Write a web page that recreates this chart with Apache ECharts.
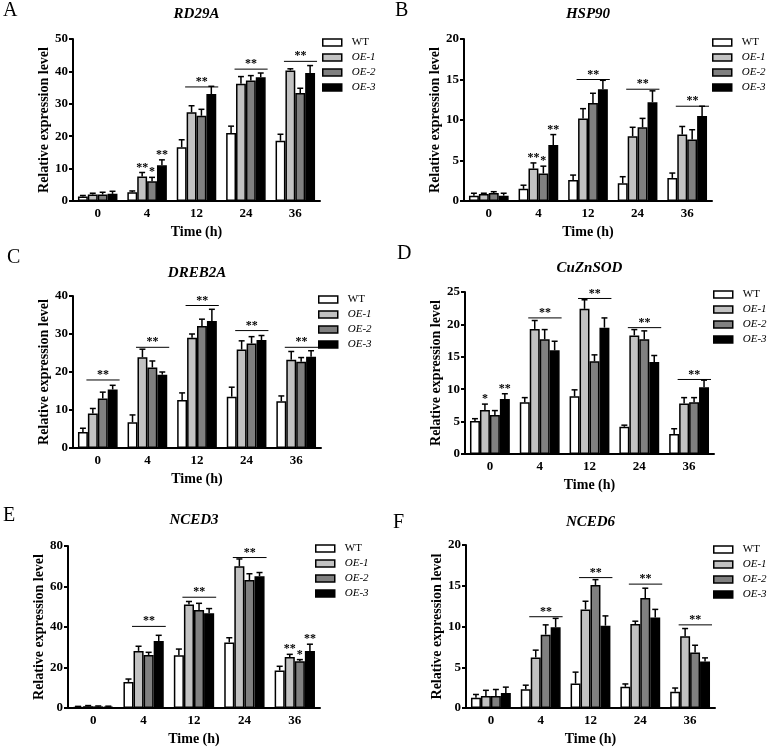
<!DOCTYPE html>
<html><head><meta charset="utf-8">
<script src="https://cdn.jsdelivr.net/npm/echarts@6/dist/echarts.min.js"></script>
<style>html,body{margin:0;padding:0;background:#fff}#c{width:771px;height:747px}</style>
</head><body><div id="c"></div>
<script>
// ---------- DATA ----------
const categories = ['0', '4', '12', '24', '36'];
const seriesNames = ['WT', 'OE-1', 'OE-2', 'OE-3'];
const yTitle = 'Relative expression level';
const xTitle = 'Time (h)';

// rows: WT, OE-1, OE-2, OE-3 ; columns: 0,4,12,24,36 h
const RD29A_mean = [[1.4, 2.7, 16.6, 21.0, 18.6], [2.0, 7.6, 27.4, 36.2, 40.3], [2.0, 6.1, 26.3, 37.2, 33.3], [2.2, 11.0, 33.0, 38.2, 39.5]];
const RD29A_sd   = [[0.3, 0.4, 2.3, 2.1, 2.0], [0.4, 1.2, 2.0, 2.2, 0.5], [0.7, 1.2, 2.0, 1.5, 1.5], [0.8, 1.7, 2.4, 1.3, 2.3]];
const RD29A_lines = [[2, 35.2, '**'], [3, 40.7, '**'], [4, 43.1, '**']];
const RD29A_stars = [[1, 1, '**'], [1, 2, '*'], [1, 3, '**']];

const HSP90_mean = [[0.66, 1.5, 2.6, 2.2, 2.85], [0.86, 4.0, 10.2, 8.0, 8.2], [1.0, 3.4, 12.1, 9.1, 7.6], [0.66, 6.9, 13.8, 12.2, 10.5]];
const HSP90_sd   = [[0.3, 0.45, 0.6, 0.8, 0.6], [0.1, 0.7, 1.2, 1.1, 1.0], [0.15, 0.9, 1.2, 1.1, 1.2], [0.3, 1.3, 1.1, 1.4, 1.2]];
const HSP90_lines = [[2, 15.0, '**'], [3, 13.8, '**'], [4, 11.7, '**']];
const HSP90_stars = [[1, 1, '**'], [1, 2, '*'], [1, 3, '**']];

const DREB2A_mean = [[4.2, 6.8, 12.6, 13.5, 12.3], [9.1, 23.9, 29.0, 25.9, 23.2], [13.0, 21.2, 32.1, 27.5, 22.7], [15.4, 19.3, 33.4, 28.4, 24.0]];
const DREB2A_sd   = [[1.0, 1.9, 1.9, 2.5, 1.4], [1.3, 2.1, 1.0, 2.3, 2.2], [1.7, 1.7, 1.8, 1.8, 1.1], [1.1, 0.7, 3.1, 1.2, 1.6]];
const DREB2A_lines = [[0, 17.9, '**'], [1, 26.5, '**'], [2, 37.5, '**'], [3, 30.9, '**'], [4, 26.5, '**']];
const DREB2A_stars = [];

const CuZnSOD_mean = [[5.1, 8.0, 8.9, 4.2, 3.1], [6.8, 19.3, 22.4, 18.3, 7.8], [6.0, 17.7, 14.3, 17.7, 8.0], [8.5, 16.0, 19.5, 14.2, 10.3]];
const CuZnSOD_sd   = [[0.35, 0.7, 1.0, 0.25, 0.8], [0.9, 1.3, 1.4, 0.9, 0.9], [0.7, 1.5, 1.0, 1.3, 0.7], [0.8, 1.4, 1.5, 1.0, 1.1]];
const CuZnSOD_lines = [[1, 21.0, '**'], [2, 24.0, '**'], [3, 19.5, '**'], [4, 11.5, '**']];
const CuZnSOD_stars = [[0, 1, '*'], [0, 3, '**']];

const NCED3_mean = [[0.6, 12.9, 26.0, 32.4, 18.5], [0.9, 28.2, 51.1, 70.0, 25.2], [0.8, 26.2, 48.4, 63.2, 23.1], [0.7, 33.1, 46.8, 65.1, 28.2]];
const NCED3_sd   = [[0.2, 1.4, 3.1, 2.3, 2.1], [0.3, 2.3, 1.5, 3.6, 1.3], [0.2, 1.3, 3.3, 3.1, 0.8], [0.2, 2.8, 2.3, 1.8, 3.3]];
const NCED3_lines = [[1, 40.3, '**'], [2, 54.7, '**'], [3, 74.3, '**']];
const NCED3_stars = [[4, 1, '**'], [4, 2, '*'], [4, 3, '**']];

const NCED6_mean = [[1.26, 2.3, 3.0, 2.6, 2.0], [1.47, 6.2, 12.1, 10.3, 8.8], [1.47, 9.0, 15.1, 13.5, 6.8], [1.83, 9.9, 10.1, 11.1, 5.7]];
const NCED6_sd   = [[0.4, 0.5, 1.4, 0.35, 0.45], [0.7, 0.9, 1.0, 0.35, 0.95], [0.8, 1.2, 0.65, 1.2, 0.9], [0.73, 1.1, 1.2, 1.0, 0.45]];
const NCED6_lines = [[1, 11.2, '**'], [2, 16.0, '**'], [3, 15.2, '**'], [4, 10.2, '**']];
const NCED6_stars = [];

const geneNames = ['RD29A', 'HSP90', 'DREB2A', 'CuZnSOD', 'NCED3', 'NCED6'];
const panelLetters = ['A', 'B', 'C', 'D', 'E', 'F'];
const yMax = [50, 20, 40, 25, 80, 20];
const yStep = [10, 5, 10, 5, 20, 5];
const means = [RD29A_mean, HSP90_mean, DREB2A_mean, CuZnSOD_mean, NCED3_mean, NCED6_mean];
const sds = [RD29A_sd, HSP90_sd, DREB2A_sd, CuZnSOD_sd, NCED3_sd, NCED6_sd];
const sigLines = [RD29A_lines, HSP90_lines, DREB2A_lines, CuZnSOD_lines, NCED3_lines, NCED6_lines];
const sigStars = [RD29A_stars, HSP90_stars, DREB2A_stars, CuZnSOD_stars, NCED3_stars, NCED6_stars];

// ---------- LAYOUT / STYLE ----------
const FONT = '"Liberation Serif", "Times New Roman", serif';
const barColors = ['#ffffff', '#c2c2c2', '#808080', '#000000'];
const grids = [
  {left: 73, top: 39, width: 247, height: 162},
  {left: 464, top: 39, width: 248, height: 162},
  {left: 73, top: 296, width: 248, height: 152},
  {left: 465, top: 292, width: 249, height: 162},
  {left: 68, top: 546, width: 252, height: 163},
  {left: 466, top: 545, width: 249, height: 164}
];
const titlePos = [[196.5, 14.5], [588, 14.5], [197, 273], [589.5, 268], [194, 520], [590.5, 522]];
const letterPos = [[3, 1], [395, 1], [7, 248], [397, 244], [3, 506], [393, 513]];
const legendPos = [[322, 37], [712, 37], [318, 294], [713, 289], [315, 543], [713, 544]];
const BAR_FRAC = 0.8; // 1 - barCategoryGap

function errRender(params, api) {
  const c = api.value(0), v = api.value(1), e = api.value(2), s = api.value(3);
  const band = api.size([1, 0])[0];
  const bw = band * BAR_FRAC / 4;
  const x = api.coord([c, 0])[0] + (s - 1.5) * bw;
  const y0 = api.coord([c, v])[1];
  const y1 = api.coord([c, v + e])[1];
  const cap = bw * 0.6;
  const st = {stroke: '#000', lineWidth: 1.5};
  return {type: 'group', children: [
    {type: 'line', shape: {x1: x, y1: y0, x2: x, y2: y1}, style: st},
    {type: 'line', shape: {x1: x - cap / 2, y1: y1, x2: x + cap / 2, y2: y1}, style: st}
  ]};
}

function makeSigRender(labels) {
  return function (params, api) {
    const c = api.value(0), y = api.value(1), s = api.value(2);
    const band = api.size([1, 0])[0];
    const bw = band * BAR_FRAC / 4;
    const cx = api.coord([c, 0])[0];
    const py = api.coord([c, y])[1];
    const txt = labels[params.dataIndex];
    const tStyle = {text: txt, font: 'bold 12px ' + FONT, fill: '#000', align: 'center', verticalAlign: 'bottom'};
    if (s < 0) {
      const x1 = cx - 0.23 * band, x2 = cx + 0.44 * band;
      return {type: 'group', children: [
        {type: 'line', shape: {x1: x1, y1: py, x2: x2, y2: py}, style: {stroke: '#000', lineWidth: 1}},
        {type: 'text', x: (x1 + x2) / 2, y: py + 1, style: tStyle}
      ]};
    }
    const bx = cx + (s - 1.5) * bw;
    return {type: 'text', x: bx, y: py + 1, style: tStyle};
  };
}

const option = {
  animation: false,
  backgroundColor: '#ffffff',
  grid: [], xAxis: [], yAxis: [], legend: [], series: [], graphic: []
};

for (let p = 0; p < 6; p++) {
  option.grid.push(Object.assign({}, grids[p]));
  option.xAxis.push({
    type: 'category', gridIndex: p, data: categories,
    axisLine: {lineStyle: {color: '#000', width: 2}},
    axisTick: {alignWithLabel: true, length: 5, lineStyle: {color: '#000', width: 2}},
    axisLabel: {color: '#000', fontFamily: FONT, fontWeight: 'bold', fontSize: 13, margin: 6},
    name: xTitle, nameLocation: 'middle', nameGap: 24,
    nameTextStyle: {color: '#000', fontFamily: FONT, fontWeight: 'bold', fontSize: 14}
  });
  option.yAxis.push({
    type: 'value', gridIndex: p, min: 0, max: yMax[p], interval: yStep[p],
    splitLine: {show: false},
    axisLine: {show: true, lineStyle: {color: '#000', width: 2}},
    axisTick: {show: true, length: 4, lineStyle: {color: '#000', width: 2}},
    axisLabel: {color: '#000', fontFamily: FONT, fontWeight: 'bold', fontSize: 13, margin: 5},
    name: yTitle, nameLocation: 'middle', nameGap: 22,
    nameTextStyle: {color: '#000', fontFamily: FONT, fontWeight: 'bold', fontSize: 14}
  });
  option.legend.push({
    data: seriesNames, orient: 'vertical', left: legendPos[p][0], top: legendPos[p][1],
    itemWidth: 19, itemHeight: 7, itemGap: 4, icon: 'rect', selectedMode: false, padding: 0,
    itemStyle: {borderColor: '#000', borderWidth: 1.5},
    textStyle: {color: '#000', fontFamily: FONT, fontSize: 11, padding: [0, 0, 0, 5],
      rich: {i: {fontStyle: 'italic', fontFamily: FONT, fontSize: 11, color: '#000'}}},
    formatter: n => n === 'WT' ? n : '{i|' + n + '}'
  });
  const errData = [];
  for (let s = 0; s < 4; s++) {
    option.series.push({
      type: 'bar', name: seriesNames[s], xAxisIndex: p, yAxisIndex: p,
      data: means[p][s], barGap: '0%', barCategoryGap: '20%', z: 2,
      itemStyle: {color: barColors[s], borderColor: '#000', borderWidth: 1.5},
      emphasis: {disabled: true}
    });
    for (let c = 0; c < 5; c++) errData.push([c, means[p][s][c], sds[p][s][c], s]);
  }
  option.series.push({
    type: 'custom', xAxisIndex: p, yAxisIndex: p, data: errData, z: 3,
    renderItem: errRender, silent: true
  });
  const sigData = [], sigLabels = [];
  sigLines[p].forEach(l => { sigData.push([l[0], l[1], -1]); sigLabels.push(l[2]); });
  sigStars[p].forEach(b => {
    sigData.push([b[0], means[p][b[1]][b[0]] + sds[p][b[1]][b[0]], b[1]]);
    sigLabels.push(b[2]);
  });
  if (sigData.length) {
    option.series.push({
      type: 'custom', xAxisIndex: p, yAxisIndex: p, data: sigData, z: 4,
      renderItem: makeSigRender(sigLabels), silent: true, clip: false
    });
  }
  option.graphic.push({
    type: 'text', x: titlePos[p][0], y: titlePos[p][1],
    style: {text: geneNames[p], font: 'italic bold 15px ' + FONT, fill: '#000', align: 'center', verticalAlign: 'middle'}
  });
  option.graphic.push({
    type: 'text', x: letterPos[p][0], y: letterPos[p][1],
    style: {text: panelLetters[p], font: '20px ' + FONT, fill: '#000', align: 'left', verticalAlign: 'top'}
  });
}

const chart = echarts.init(document.getElementById('c'), null, {renderer: 'canvas'});
chart.setOption(option);
</script>
</body></html>
